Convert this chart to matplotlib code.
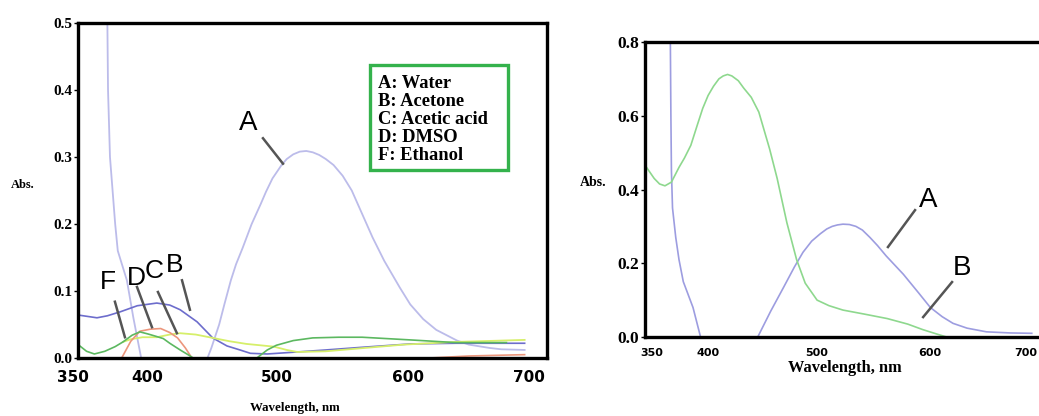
import numpy as np
import matplotlib
matplotlib.use("Agg")
import matplotlib.pyplot as plt
import matplotlib.transforms as mtrans
from matplotlib.patches import Rectangle

nan = np.nan

# ---------------- Left panel data ----------------
left_A_wl = [371, 372, 372.5, 374, 378, 380, 387, 392, 398, nan,
             449, 452, 458, 462, 467, 471, 476, 483, 490, 494, 499, 506, 510, 515, 520, 525, 530, 535, 540, 546,
             553, 560, 568, 576, 585, 597, 605, 615, 625, 641, 650, 666, 675, 693]
left_A_abs = [0.55, 0.50, 0.40, 0.30, 0.20, 0.16, 0.116, 0.06, 0.0, nan,
              0.0, 0.015, 0.05, 0.08, 0.116, 0.14, 0.164, 0.20, 0.23, 0.248, 0.268, 0.288, 0.297, 0.304, 0.308, 0.309,
              0.307, 0.303, 0.297, 0.288, 0.272, 0.25, 0.215, 0.18, 0.145, 0.105, 0.08, 0.058, 0.042, 0.026, 0.02,
              0.015, 0.013, 0.012]

left_B_wl = [350, 357, 364, 372, 382, 395, 410, 420, 428, 441, 453, 464, 474, 482, 495, 518, 540, 568, 605, 640, 693]
left_B_abs = [0.064, 0.062, 0.060, 0.063, 0.069, 0.078, 0.082, 0.079, 0.072, 0.054, 0.030, 0.018, 0.012, 0.007, 0.006, 0.009, 0.012, 0.016, 0.021, 0.022, 0.022]

left_G_wl = [349.5, 356, 362, 370, 378, 384, 391, 397, 403, 410, 415, 420, 428, 434, 438, nan,
             487, 495, 502, 515, 530, 550, 568, 605, 640, 679]
left_G_abs = [0.020, 0.010, 0.006, 0.010, 0.017, 0.024, 0.034, 0.039, 0.036, 0.032, 0.029, 0.022, 0.012, 0.005, 0.0, nan,
              0.0, 0.012, 0.019, 0.026, 0.030, 0.031, 0.031, 0.027, 0.023, 0.023]

left_O_wl = [383, 390, 397, 405, 413, 420, 426, 432, 437, nan, 620, 650, 693]
left_O_abs = [0.0, 0.025, 0.040, 0.043, 0.044, 0.038, 0.030, 0.015, 0.0, nan, 0.0, 0.003, 0.005]

left_Y_wl = [384, 390, 399, 410, 420, 428, 440, 453, 466, 479, 500, 510, 518, 540, 570, 600, 640, 693]
left_Y_abs = [0.024, 0.028, 0.031, 0.031, 0.035, 0.037, 0.035, 0.030, 0.025, 0.021, 0.017, 0.012, 0.009, 0.010, 0.015, 0.020, 0.024, 0.027]

legend_lines = ["A: Water", "B: Acetone", "C: Acetic acid", "D: DMSO", "F: Ethanol"]

# ---------------- Right panel data ----------------
right_A_wl = [365, 365, 365.5, 366, 367, 370, 373, 377, 386, 393, nan,
              446, 458, 470, 480, 488, 496, 504, 510, 515, 520, 525, 531, 537, 543, 550, 557, 565, 573, 581, 588,
              595, 606, 617, 627, 640, 658, 680, 700]
right_A_abs = [0.85, 0.80, 0.60, 0.45, 0.35, 0.27, 0.21, 0.15, 0.08, 0.0, nan,
               0.0, 0.07, 0.135, 0.19, 0.23, 0.26, 0.28, 0.293, 0.30, 0.304, 0.306, 0.305, 0.30, 0.29, 0.27, 0.248,
               0.22, 0.195, 0.17, 0.145, 0.12, 0.08, 0.055, 0.037, 0.024, 0.014, 0.011, 0.010]

right_B_wl = [341.5, 350, 355, 360, 366, 373, 378, 384, 390, 395, 400, 405, 410, 414, 418, 422, 428, 433, 440, 447,
              457, 464, 473, 482, 490, 501, 512, 525, 545, 566, 585, 599, 612, 621, 646]
right_B_abs = [0.466, 0.43, 0.415, 0.41, 0.42, 0.46, 0.485, 0.52, 0.575, 0.62, 0.655, 0.68, 0.70, 0.708, 0.712,
               0.708, 0.695, 0.675, 0.65, 0.61, 0.51, 0.43, 0.31, 0.21, 0.146, 0.10, 0.085, 0.073, 0.062, 0.05, 0.035,
               0.02, 0.008, 0.0, 0.0]

xticks = [350, 400, 500, 600, 700]
left_yticks = [0.0, 0.1, 0.2, 0.3, 0.4, 0.5]
right_yticks = [0.0, 0.2, 0.4, 0.6, 0.8]

W, H = 1039, 416
fig = plt.figure(figsize=(W / 100, H / 100), dpi=100)

SERIF = ["Liberation Serif", "DejaVu Serif"]
LETTER = ["Liberation Sans", "DejaVu Sans"]


def px_axes(x0, y0, x1, y1):
    return fig.add_axes([x0 / W, 1 - y1 / H, (x1 - x0) / W, (y1 - y0) / H])


def shift_labels(ax, shifts):
    for lab, dx in zip(ax.get_xticklabels(), shifts):
        lab.set_transform(lab.get_transform() + mtrans.ScaledTranslation(dx / 100, 0, fig.dpi_scale_trans))


ann_kw = dict(color="#555555", lw=1.8)

# ================= Left panel =================
ax1 = px_axes(78, 23, 547, 358)
ax1.plot(left_A_wl, left_A_abs, color="#bcbcea", lw=1.3)
ax1.plot(left_B_wl, left_B_abs, color="#6d6dcc", lw=1.2)
ax1.plot(left_Y_wl, left_Y_abs, color="#d6ef6a", lw=1.3)
ax1.plot(left_O_wl, left_O_abs, color="#ec967c", lw=1.2)
ax1.plot(left_G_wl, left_G_abs, color="#5cb860", lw=1.2)
ax1.set_xlim(349.4, 710.2)
ax1.set_ylim(0, 0.5)
ax1.set_xticks(xticks)
ax1.set_yticks(left_yticks)
ax1.set_yticklabels([f"{v:.1f}" for v in left_yticks], family=SERIF, fontweight="bold", fontsize=11)
ax1.set_xticklabels([str(v) for v in xticks], family="DejaVu Sans", fontweight="bold", fontsize=11)
ax1.tick_params(axis="x", length=0, pad=9)
ax1.tick_params(axis="y", length=3, width=1, pad=1)
for s in ax1.spines.values():
    s.set_linewidth(2.4)
shift_labels(ax1, [-6, 3, 3, 4, -5])

ax1.text(480, 0.351, "A", family=LETTER, fontsize=20, ha="center", va="center")
ax1.plot([491.7, 507.1], [0.328, 0.290], **ann_kw)
for lab, tx, ty, p0, p1 in [
    ("F", 372.5, 0.113, (377.8, 0.084), (385.5, 0.031)),
    ("D", 394.0, 0.119, (394.8, 0.106), (406.3, 0.046)),
    ("C", 407.8, 0.130, (410.9, 0.0985), (425.5, 0.037)),
    ("B", 424.0, 0.139, (429.4, 0.116), (435.5, 0.072)),
]:
    ax1.text(tx, ty, lab, family=LETTER, fontsize=19, ha="center", va="center")
    ax1.plot([p0[0], p1[0]], [p0[1], p1[1]], **ann_kw)

fig.text(23 / W, 1 - 185 / H, "Abs.", family=SERIF, fontweight="bold", fontsize=9, ha="center", va="center")
fig.text(295 / W, 1 - 408 / H, "Wavelength, nm", family=SERIF, fontweight="bold", fontsize=9.3, ha="center", va="center")

fig.patches.append(Rectangle((370 / W, 1 - 170 / H), (508 - 370) / W, (170 - 65) / H,
                             transform=fig.transFigure, fill=False, edgecolor="#34b24c", lw=2.4))
for i, t in enumerate(legend_lines):
    fig.text(378 / W, 1 - (84 + 17.8 * i) / H, t, family=SERIF, fontweight="bold", fontsize=13.3,
             ha="left", va="center")

# ================= Right panel =================
ax2 = px_axes(645, 42, 1039, 337)
ax2.plot(right_A_wl, right_A_abs, color="#9d9de0", lw=1.2)
ax2.plot(right_B_wl, right_B_abs, color="#8ed88e", lw=1.2)
ax2.set_xlim(341.5, 706.7)
ax2.set_ylim(0, 0.8)
ax2.set_xticks(xticks)
ax2.set_yticks(right_yticks)
ax2.set_yticklabels([f"{v:.1f}" for v in right_yticks], family=SERIF, fontweight="bold", fontsize=12.5)
ax2.set_xticklabels([str(v) for v in xticks], family="DejaVu Sans", fontweight="bold", fontsize=8)
ax2.tick_params(axis="x", length=0, pad=8)
ax2.tick_params(axis="y", length=3, width=1, pad=1)
ax2.spines["right"].set_visible(False)
for k in ("left", "top", "bottom"):
    ax2.spines[k].set_linewidth(2.4)
shift_labels(ax2, [-2, 0, 1, 6, -6])

ax2.text(604, 0.372, "A", family=LETTER, fontsize=20, ha="center", va="center")
ax2.plot([591.8, 566.7], [0.344, 0.244], **ann_kw)
ax2.text(635.4, 0.187, "B", family=LETTER, fontsize=20, ha="center", va="center")
ax2.plot([626.1, 599.3], [0.149, 0.054], **ann_kw)

fig.text(593 / W, 1 - 183 / H, "Abs.", family=SERIF, fontweight="bold", fontsize=10, ha="center", va="center")
fig.text(845 / W, 1 - 368 / H, "Wavelength, nm", family=SERIF, fontweight="bold", fontsize=11.8, ha="center", va="center")

fig.savefig("out.png", dpi=100)
